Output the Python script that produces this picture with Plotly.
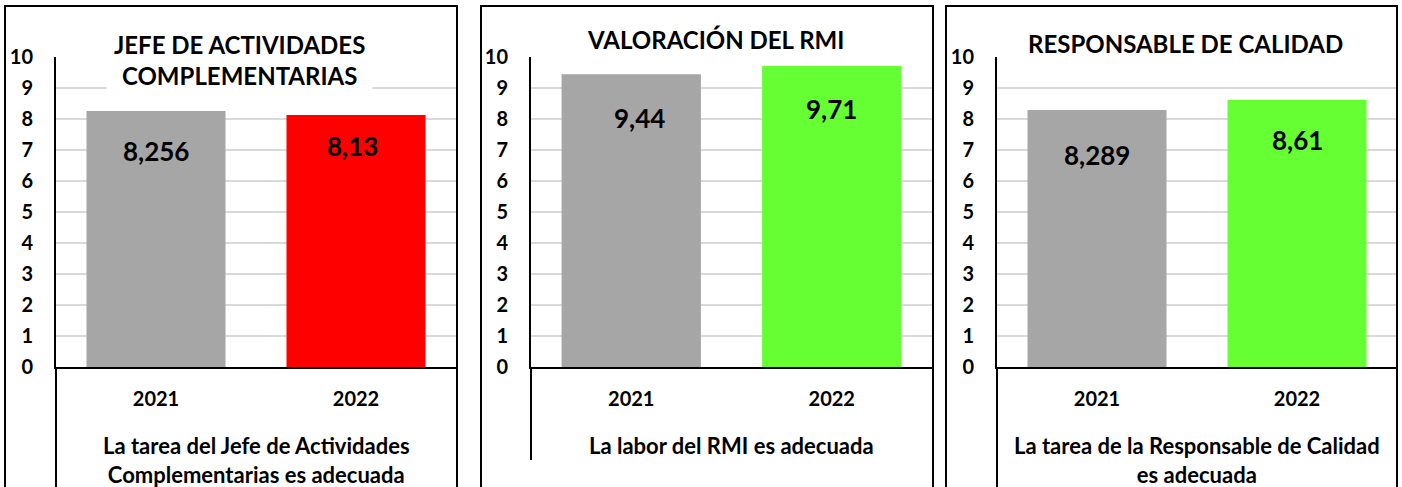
import plotly.graph_objects as go

# --- data -----------------------------------------------------------------
categories = ["2021", "2022"]

titles = [
    "JEFE DE ACTIVIDADES<br>COMPLEMENTARIAS",
    "VALORACIÓN DEL RMI",
    "RESPONSABLE DE CALIDAD",
]
axis_titles = [
    "La tarea del Jefe de Actividades<br>Complementarias es adecuada",
    "La labor del RMI es adecuada",
    "La tarea de la Responsable de Calidad<br>es adecuada",
]

values_jefe = [8.256, 8.13]
values_rmi = [9.44, 9.71]
values_calidad = [8.289, 8.61]

colors_jefe = ["#a6a6a6", "#ff0000"]
colors_rmi = ["#a6a6a6", "#66ff33"]
colors_calidad = ["#a6a6a6", "#66ff33"]

y_ticks = list(range(0, 11))

# --- layout helpers (pixel geometry of the 1402x487 page) -----------------
W, H = 1402, 487


def px_x(x):
    return x / W


def px_y(y):
    return (H - y) / H


# plot areas (left, right) in px, shared vertical extent
plot_x = [(56, 456), (531, 932), (997, 1397)]
plot_top, plot_zero = 57, 367
# outer frames (left, right) in px
frames = [(5, 457), (481, 933), (946, 1397)]
# bottom of the vertical divider under each y axis
divider_bottom = [495, 460, 495]
# centre of each chart title
title_pos = [(239, 60), (715, 39), (1185, 43)]
# offsets of each value label (x, y) from the bar top centre
label_xshift = [[0, -4], [8, 0], [0, 0]]
label_shift = [[-40, -31], [-44, -43], [-45, -40]]

panels = [
    (values_jefe, colors_jefe),
    (values_rmi, colors_rmi),
    (values_calidad, colors_calidad),
]

fig = go.Figure()
annotations = []
shapes = []

for i, (vals, cols) in enumerate(panels):
    n = "" if i == 0 else str(i + 1)
    fig.add_trace(go.Bar(
        x=categories,
        y=vals,
        marker=dict(color=cols, line=dict(width=0)),
        xaxis="x" + n,
        yaxis="y" + n,
        hoverinfo="skip",
    ))

    x0, x1 = plot_x[i]
    fig.update_layout(**{
        "xaxis" + n: dict(
            domain=[px_x(x0), px_x(x1)],
            anchor="y" + n,
            type="category",
            range=[-0.5, 1.5],
            automargin=False,
            showline=True, linecolor="black", linewidth=2,
            showgrid=False, ticks="",
            tickfont=dict(size=20),
            ticklabelstandoff=13,
        ),
        "yaxis" + n: dict(
            domain=[px_y(plot_zero), px_y(plot_top)],
            anchor="x" + n,
            range=[0, 10],
            tickvals=y_ticks,
            automargin=False,
            showline=True, linecolor="black", linewidth=2,
            showgrid=True, gridcolor="#d9d9d9", gridwidth=2,
            zeroline=False, ticks="",
            tickfont=dict(size=20),
            ticklabelstandoff=17,
        ),
    })

    # value labels (x given as category index)
    for j, v in enumerate(vals):
        annotations.append(dict(
            x=j, y=v, xref="x" + n, yref="y" + n,
            text=str(v).replace(".", ","), showarrow=False,
            xanchor="center", yanchor="middle",
            xshift=label_xshift[i][j], yshift=label_shift[i][j],
            font=dict(size=26),
        ))

    # chart title with white box over the gridlines
    tx, ty = title_pos[i]
    annotations.append(dict(
        x=px_x(tx), y=px_y(ty), xref="paper", yref="paper",
        text=titles[i], showarrow=False,
        xanchor="center", yanchor="middle",
        font=dict(size=24), bgcolor="white", borderpad=7,
    ))

    # category axis title
    annotations.append(dict(
        x=px_x((x0 + x1) / 2), y=px_y(430), xref="paper", yref="paper",
        text=axis_titles[i], showarrow=False,
        xanchor="center", yanchor="top",
        font=dict(size=22),
    ))

    # divider under the y axis
    shapes.append(dict(
        type="line", xref="paper", yref="paper",
        x0=px_x(x0), x1=px_x(x0), y0=px_y(plot_zero), y1=px_y(divider_bottom[i]),
        line=dict(color="black", width=2),
    ))

    # outer frame
    fx0, fx1 = frames[i]
    shapes.append(dict(
        type="rect", xref="paper", yref="paper",
        x0=px_x(fx0), x1=px_x(fx1), y0=px_y(H + 20), y1=px_y(6),
        line=dict(color="black", width=2), fillcolor="rgba(0,0,0,0)",
    ))

fig.update_layout(
    width=W, height=H,
    margin=dict(l=0, r=0, t=0, b=0),
    plot_bgcolor="white", paper_bgcolor="white",
    font=dict(family="Lato", color="black", weight="bold"),
    bargap=0.305,
    showlegend=False,
    annotations=annotations,
    shapes=shapes,
)

# the page's default 8px body margin would shift the whole figure
fig.write_html(
    "out.html",
    config={"displayModeBar": False},
    post_script="document.body.style.margin = '0';",
)
